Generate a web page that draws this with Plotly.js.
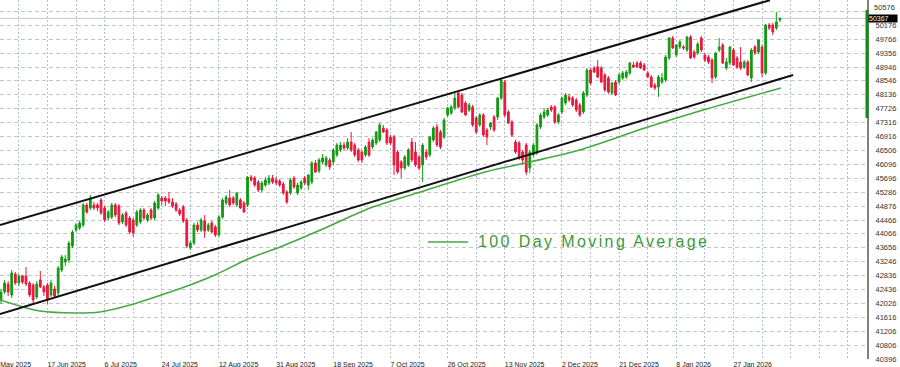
<!DOCTYPE html>
<html><head><meta charset="utf-8">
<script src="https://cdn.plot.ly/plotly-3.0.1.min.js"></script>
<style>html,body{margin:0;padding:0;background:#fff;overflow:hidden}#chart{width:900px;height:367px}</style>
</head><body><div id="chart"></div>
<script>
// Daily candles (bar index order)
const openVals = [
42124,42358,42592,42270,42885,42622,42827,42827,42622,42563,42212,42710,42505,42563,42270,42446,42329,43002,43237,43295,43705,44174,44232,44320,44906,44818,44906,44906,45052,44818,44525,44554,44906,44876,44408,44671,44525,44466,44320,44408,44759,44466,44759,44525,44818,45110,
45110,45081,44994,44935,44759,44847,44466,43646,43793,44320,44174,44437,44174,44379,44261,44027,44554,44964,45110,45110,44906,45052,44964,44906,45725,45696,45579,45345,45491,45550,45696,45638,45608,45521,45286,45257,45696,45257,45403,45696,45491,45579,46135,45900,46164,
46077,46223,46164,46370,46516,46662,46575,46750,46662,46516,46457,46370,46750,46604,46721,46809,47160,47102,46896,46896,46457,46164,45989,46077,46750,46457,46311,46077,46457,46370,46809,47190,47043,46896,47541,47599,47746,48185,48126,47892,47687,47775,47453,47248,47541,
47102,47190,47482,47482,48038,48507,47629,47336,46750,46721,46457,46662,45989,46370,46428,47190,47482,47541,47775,47775,47336,47629,47892,48068,48038,47980,47834,47629,48126,48858,48917,48946,48917,48712,48624,48185,48507,48507,48624,48654,48771,49005,49063,49063,49005,
48771,48654,48419,48361,48507,48566,49210,49796,49298,49532,49532,49444,49825,49385,49356,49796,49298,49239,49151,48654,49444,49590,48917,49063,49444,49210,49093,48946,49093,48624,49532,49385,49532,48771,50176,50176,50088,50322];
const highVals = [
42446,42710,42680,43002,42944,42885,42856,43090,42680,42622,42680,42973,42563,42622,42710,42534,43120,43442,43442,43851,44174,44379,44437,44964,44964,45198,44994,44964,45110,44876,44759,44964,44964,44935,44671,44730,44584,44525,44759,44818,44818,44671,44818,45022,45257,45169,
45169,45286,45110,44994,44818,44906,44525,43851,44379,44408,44525,44613,44379,44437,44320,44613,45110,45198,45345,45169,45286,45110,45022,45755,45784,45755,45638,45608,45725,45784,45784,45725,45667,45579,45345,45696,45755,45550,45638,45755,45813,46194,46223,46282,46399,
46340,46282,46575,46721,46750,46750,46867,47043,46721,46575,46516,46662,46867,46867,47072,47306,47248,47160,46955,46955,46516,46223,46370,46575,46867,46750,46370,46721,46545,46926,47219,47277,47102,47453,47775,47834,48185,48244,48185,47951,47892,47834,47511,47599,47599,
47160,47336,47541,48068,48624,48566,47687,47394,46809,46779,46516,46721,46516,46721,47306,47599,47746,47746,47834,47834,47599,48068,48185,48156,48097,48038,47892,48244,48917,48917,48976,49151,48976,48771,48683,48507,48566,48771,48829,48858,49093,49093,49122,49122,49063,
48829,48712,48478,48712,48771,49298,49825,49854,49620,49737,49590,49854,49883,49444,49678,49854,49356,49298,49210,49385,49796,49649,49210,49561,49503,49268,49532,49151,49151,49503,49590,49766,49590,50205,50234,50234,50557,50410];
const lowVals = [
42007,42300,42241,42183,42563,42534,42592,42534,42212,42007,42153,42476,42241,42007,42212,42183,42241,42944,43120,43208,43646,44115,44174,44261,44642,44759,44759,44730,44613,44408,44466,44496,44554,44320,44349,44261,44056,43969,44261,44349,44466,44408,44466,44466,44759,44906,
44876,44935,44818,44701,44584,44379,43646,43588,43734,44115,44115,43940,44115,44085,43969,43969,44496,44906,44847,44906,44847,44789,44671,44847,45579,45433,45286,45286,45433,45491,45521,45491,45433,45198,44935,45198,45374,45198,45345,45491,45345,45521,45842,45842,46106,
46018,45930,46077,46311,46457,46516,46516,46457,46311,46164,46135,46311,46311,46545,46662,46750,47014,46662,46662,45784,45813,45696,45930,46018,46164,46018,45930,45579,46223,46311,46750,46604,46545,46838,47482,47541,47687,47746,47599,47511,47629,47190,46984,47190,46896,
46662,47102,47043,47394,47980,47482,47277,46896,46399,46223,46077,45784,45842,46311,46370,47131,47424,47482,47629,47277,47277,47570,47834,47922,47775,47629,47482,47570,48068,48419,48771,48624,48478,48214,48156,48126,48097,48448,48566,48595,48712,48917,48917,48888,48829,
48624,48331,48273,48068,48448,48507,49151,49473,49239,49473,49444,49385,49181,49181,49298,49385,49093,49034,48478,48595,49385,49034,48858,49005,48976,48888,48858,48888,48683,48507,49298,49327,48654,48712,50030,49883,50030,50264];
const closeVals = [
42358,42622,42358,42915,42622,42827,42651,42592,42270,42124,42592,42505,42358,42124,42622,42241,43061,43383,43325,43793,44115,44320,44379,44906,44701,45110,44818,44818,44671,44466,44701,44906,44613,44379,44613,44320,44115,44085,44701,44759,44525,44613,44525,44964,45198,45022,
45022,44994,44876,44759,44642,44437,43705,43793,44320,44174,44466,44144,44320,44115,44027,44554,45052,45140,44906,44964,45257,44818,44701,45725,45638,45491,45345,45550,45638,45696,45579,45550,45491,45257,44994,45638,45433,45491,45579,45550,45784,46135,45872,46223,46282,
46282,46018,46516,46662,46662,46575,46750,46516,46370,46223,46223,46604,46370,46809,47043,47248,47043,46721,46721,46077,45872,45989,46311,46516,46223,46077,45989,46662,46311,46896,47160,46662,46604,47394,47746,47775,48038,47775,47629,47541,47834,47248,47043,47541,46955,
46896,47306,47102,48038,48566,47541,47306,46955,46457,46282,46223,45872,46457,46662,47248,47541,47629,47687,47687,47336,47541,48038,48126,47980,47834,47687,47541,48185,48858,48478,48800,48654,48507,48273,48214,48478,48126,48712,48771,48800,49063,48946,48946,48917,48858,
48654,48361,48331,48654,48624,49239,49796,49503,49590,49678,49503,49825,49210,49239,49620,49444,49151,49093,48624,49356,49532,49063,49093,49532,49005,48946,48917,49093,48712,49444,49356,49737,48771,50176,50088,49971,50264,50367];

// 100 day moving average, read at sample bars
const maBars = [-0.3,5.3,10.9,20.7,27.7,36.1,46.5,52.9,60.5,69.1,78.1,90.7,103.3,117.3,135.5,148,162,180.2,196.5,218.3];
const maVals = [42124,41946,41800,41743,41773,41978,42329,42563,42885,43325,43676,44232,44818,45286,45872,46165,46516,47160,47687,48332];

// channel trend lines (end points)
const upperBars = [-0.28, 215.2];
const upperVals = [44320, 50903];
const lowerBars = [-0.28, 221.7];
const lowerVals = [41714, 48712];

const xTickBars = [-0.2,13,29,45,61,77,93,109,125,141,157,173,189,205];
const xTickLabels = ['May 2025','17 Jun 2025','6 Jul 2025','24 Jul 2025','12 Aug 2025','31 Aug 2025','18 Sep 2025','7 Oct 2025','26 Oct 2025','13 Nov 2025','2 Dec 2025','21 Dec 2025','8 Jan 2026','27 Jan 2026'];
const yTickVals = [40396,40806,41206,41616,42026,42436,42836,43246,43656,44066,44466,44876,45286,45696,46096,46506,46916,47316,47726,48136,48546,48946,49356,49766,50176,50576];
const yTickLabels = ['40396','40806','41206','41616','42026','42436','42836','43246','43656','44066','44466','44876','45286','45696','46096','46506','46916','47316','47726','48136','48546','48946','49356','49766','50176',''];
const topLabel = '50576';   // top scale value, printed at the top edge
const lastPrice = 50367;
const axisBarRange = [47453, 50615];
const legendLabel = '100 Day Moving Average';

const barIndex = closeVals.map((v, i) => i);
const GREEN = '#129a12', RED = '#e8183c', MA = '#45a845';
const FONT = '"Liberation Sans", Arial, sans-serif';

const traces = [
  {type:'scatter', mode:'lines', x:maBars, y:maVals, line:{color:MA, width:1.6, shape:'spline', smoothing:0.8}, hoverinfo:'skip'},
  {type:'scatter', mode:'lines', x:upperBars, y:upperVals, line:{color:'#111', width:2}, hoverinfo:'skip'},
  {type:'scatter', mode:'lines', x:lowerBars, y:lowerVals, line:{color:'#111', width:2}, hoverinfo:'skip'},
  {type:'candlestick', x:barIndex, open:openVals, high:highVals, low:lowVals, close:closeVals,
   increasing:{line:{color:GREEN, width:1}, fillcolor:GREEN},
   decreasing:{line:{color:RED, width:1}, fillcolor:RED},
   whiskerwidth:0, hoverinfo:'skip'}
];

const layout = {
  width:900, height:367,
  margin:{l:0, r:33, t:0, b:8, pad:0},
  paper_bgcolor:'#fff', plot_bgcolor:'#fff',
  showlegend:false,
  font:{family:FONT, color:'#222'},
  xaxis:{
    type:'linear', range:[-0.28, 242.37], rangeslider:{visible:false},
    tickmode:'array', tickvals:xTickBars, ticktext:xTickLabels,
    ticklabelposition:'outside right', ticks:'', tickfont:{size:7, color:'#222', family:FONT},
    showgrid:true, gridcolor:'#b4c0d0', griddash:'2px,2px', gridwidth:1,
    minor:{tickmode:'linear', tick0:5, dtick:8, showgrid:true, gridcolor:'#b4c0d0', griddash:'2px,2px', gridwidth:1, ticks:''},
    zeroline:false, showline:false, fixedrange:true
  },
  yaxis:{
    side:'right', range:[40396, 50908],
    tickmode:'array', tickvals:yTickVals, ticktext:yTickLabels,
    ticks:'', ticklabelstandoff:5, tickfont:{size:7.5, color:'#333', family:FONT},
    showgrid:true, gridcolor:'#c6c6c6', griddash:'4px,3px', gridwidth:1,
    zeroline:false, showline:true, linecolor:'#808080', linewidth:2, fixedrange:true
  },
  shapes:[
    {type:'line', xref:'paper', yref:'y', x0:0, x1:1, y0:lastPrice, y1:lastPrice, line:{color:'#c2cad6', width:1}, layer:'below'},
    {type:'line', xref:'paper', yref:'y', x0:1, x1:1, y0:axisBarRange[0], y1:axisBarRange[1], line:{color:'#128a12', width:3}},
    {type:'line', xref:'paper', yref:'paper', x0:0.4937, x1:0.5398, y0:0.326, y1:0.326, line:{color:MA, width:1.6}}
  ],
  annotations:[
    {xref:'paper', yref:'paper', x:1, y:1, xanchor:'left', yanchor:'top', xshift:5, yshift:-1,
     text:topLabel, showarrow:false, font:{size:7.5, color:'#333', family:FONT}},
    {xref:'paper', yref:'y', x:1, y:lastPrice, xanchor:'left', yanchor:'middle', xshift:1,
     text:String(lastPrice), showarrow:false, bgcolor:'#000', width:28, align:'left',
     font:{size:7, color:'#fff', family:FONT}, borderpad:0},
    {xref:'paper', yref:'paper', x:0.549, y:0.326, xanchor:'left', yanchor:'middle', showarrow:false,
     text:'<span style="letter-spacing:2.4px">' + legendLabel + '</span>', font:{size:16, color:'#3a9a3a', family:FONT}}
  ]
};

Plotly.newPlot('chart', traces, layout, {staticPlot:true, displayModeBar:false});
</script>
</body></html>
